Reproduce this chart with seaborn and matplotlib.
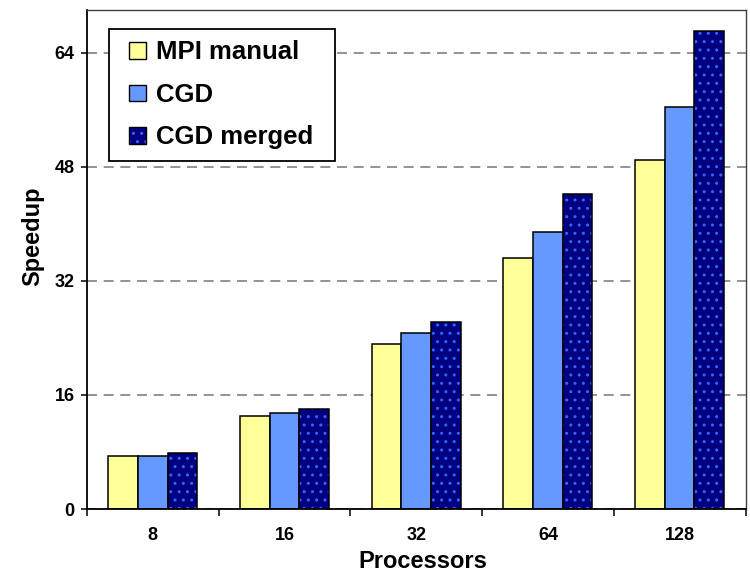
import matplotlib
matplotlib.use("Agg")
import matplotlib.pyplot as plt
import matplotlib.colors as mcolors
from matplotlib.patches import Patch, Rectangle
from matplotlib.legend_handler import HandlerPatch
import numpy as np
import pandas as pd
import seaborn as sns

# Speedup measured for each processor count
processors = ["8", "16", "32", "64", "128"]
mpi_manual = [7.4, 13.0, 23.2, 35.2, 48.9]
cgd = [7.5, 13.4, 24.7, 38.8, 56.4]
cgd_merged = [7.8, 14.0, 26.2, 44.2, 67.1]

series_names = ["MPI manual", "CGD", "CGD merged"]
series_colors = ["#FFFF99", "#6699FF", "#000080"]
y_ticks = [0, 16, 32, 48, 64]

df = pd.DataFrame({
    "Processors": processors * 3,
    "Speedup": mpi_manual + cgd + cgd_merged,
    "Series": [s for s in series_names for _ in processors],
})

sns.set_theme(style="white")
plt.rcParams["font.family"] = ["Liberation Sans", "DejaVu Sans"]
plt.rcParams["font.weight"] = "bold"
for key in ["text.color", "axes.labelcolor", "xtick.color", "ytick.color"]:
    plt.rcParams[key] = "black"

fig = plt.figure(figsize=(7.5, 5.77), dpi=100)
ax = fig.add_axes([0.116, 0.1178, 0.878, 0.865])

sns.barplot(
    data=df, x="Processors", y="Speedup", hue="Series",
    order=processors, hue_order=series_names,
    palette=series_colors, width=0.676, gap=0,
    edgecolor="black", linewidth=1.1, saturation=1,
    ax=ax, legend=False,
)

# dotted fill on the merged series, dots in a lighter blue
n = len(processors)
dot_color = mcolors.to_rgba("#3366FF")
for p in ax.patches[2 * n:3 * n]:
    p.set_hatch("..")
    p._hatch_color = dot_color

ax.set_ylim(0, 70)
ax.set_xlim(-0.5, n - 0.5)
ax.set_yticks(y_ticks)
ax.set_yticklabels([str(t) for t in y_ticks], fontsize=13, fontweight="bold")
ax.tick_params(axis="y", direction="out", length=4, width=1.1, color="black",
               pad=5, left=True)

# category labels centred, tick marks on the category boundaries
ax.set_xticks(range(n))
ax.set_xticklabels(processors, fontsize=13, fontweight="bold")
ax.set_xticks(np.arange(-0.5, n, 1.0), minor=True)
ax.tick_params(axis="x", which="major", length=0, pad=13)
ax.tick_params(axis="x", which="minor", direction="out", length=5, width=1.1,
               color="black", bottom=True)

ax.set_axisbelow(True)
ax.yaxis.grid(True, color="#808080", linestyle=(0, (6, 4)), linewidth=1.2)
ax.xaxis.grid(False)

for side in ["left", "bottom"]:
    ax.spines[side].set_color("black")
    ax.spines[side].set_linewidth(1.3)
for side in ["top", "right"]:
    ax.spines[side].set_color("#404040")
    ax.spines[side].set_linewidth(1.0)

ax.set_xlabel("Processors", fontsize=17, fontweight="bold", labelpad=7)
ax.xaxis.set_label_coords(0.51, -0.082)
ax.xaxis.label.set_va("top")
ax.set_ylabel("Speedup", fontsize=17, fontweight="bold")
ax.yaxis.set_label_coords(-0.065, 0.547)


def square_swatch(legend, orig_handle, xdescent, ydescent, width, height, fontsize):
    # square swatch sitting at the right end of the handle box
    return Rectangle((-xdescent + width - height, -ydescent), height, height)


handles = []
for name, col in zip(series_names, series_colors):
    h = Patch(facecolor=col, edgecolor="black", linewidth=1.0, label=name)
    if name == "CGD merged":
        h.set_hatch("..")
        h._hatch_color = dot_color
    handles.append(h)
leg = ax.legend(
    handles=handles, loc="upper left", bbox_to_anchor=(0.033, 0.962, 0.343, 0.0),
    mode="expand", borderaxespad=0, fancybox=False, frameon=True, framealpha=1,
    edgecolor="black", prop={"size": 18.5, "weight": "bold"},
    handlelength=1.0, handleheight=0.62, handletextpad=0.4,
    labelspacing=0.72, borderpad=0.45,
    handler_map={Patch: HandlerPatch(patch_func=square_swatch)},
)
leg.get_frame().set_linewidth(1.3)
for h in leg.legend_handles:
    if h.get_hatch():
        h._hatch_color = dot_color

fig.savefig("out.png", dpi=100)
